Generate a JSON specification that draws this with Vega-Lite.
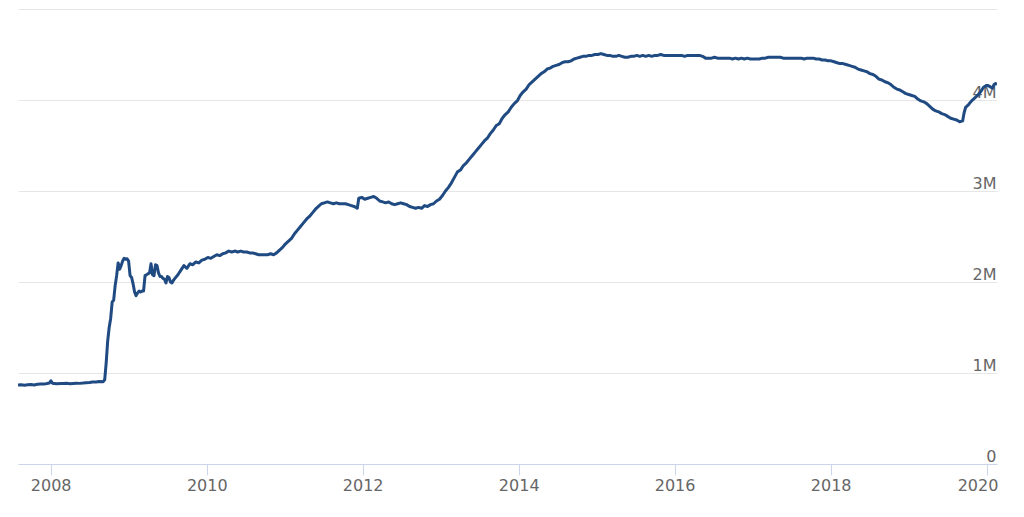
{
  "$schema": "https://vega.github.io/schema/vega-lite/v6.json",
  "width": 979,
  "height": 455,
  "autosize": {"type": "none"},
  "padding": {"left": 18, "top": 9, "right": 27, "bottom": 53},
  "background": "white",
  "config": {"view": {"stroke": null}},
  "data": {"values": [
    {"date":"2007-08-01","v":869},{"date":"2007-08-15","v":872},{"date":"2007-09-01","v":866},{"date":"2007-09-15","v":871},{"date":"2007-10-01","v":874},{"date":"2007-10-15","v":869},{"date":"2007-11-01","v":876},{"date":"2007-11-15","v":880},{"date":"2007-12-01","v":878},{"date":"2007-12-15","v":884},{"date":"2007-12-26","v":890},
    {"date":"2008-01-02","v":915},{"date":"2008-01-09","v":889},{"date":"2008-01-15","v":884},{"date":"2008-02-01","v":881},{"date":"2008-02-15","v":884},{"date":"2008-03-01","v":885},{"date":"2008-03-15","v":887},{"date":"2008-04-01","v":883},{"date":"2008-04-15","v":885},{"date":"2008-05-01","v":888},{"date":"2008-05-15","v":886},{"date":"2008-06-01","v":889},{"date":"2008-06-15","v":893},{"date":"2008-07-01","v":895},{"date":"2008-07-15","v":900},{"date":"2008-08-01","v":901},{"date":"2008-08-15","v":906},{"date":"2008-09-03","v":905},{"date":"2008-09-10","v":925},{"date":"2008-09-17","v":1110},{"date":"2008-09-24","v":1350},{"date":"2008-10-01","v":1500},{"date":"2008-10-08","v":1600},{"date":"2008-10-15","v":1780},{"date":"2008-10-22","v":1800},{"date":"2008-10-29","v":1960},{"date":"2008-11-05","v":2070},{"date":"2008-11-12","v":2210},{"date":"2008-11-19","v":2140},{"date":"2008-11-26","v":2180},{"date":"2008-12-03","v":2230},{"date":"2008-12-10","v":2260},{"date":"2008-12-17","v":2250},{"date":"2008-12-24","v":2255},{"date":"2008-12-31","v":2230},
    {"date":"2009-01-07","v":2070},{"date":"2009-01-14","v":2050},{"date":"2009-01-21","v":1980},{"date":"2009-01-28","v":1890},{"date":"2009-02-04","v":1850},{"date":"2009-02-11","v":1880},{"date":"2009-02-18","v":1900},{"date":"2009-02-25","v":1890},{"date":"2009-03-04","v":1900},{"date":"2009-03-11","v":1900},{"date":"2009-03-18","v":2070},{"date":"2009-03-25","v":2080},{"date":"2009-04-01","v":2090},{"date":"2009-04-08","v":2100},{"date":"2009-04-15","v":2200},{"date":"2009-04-22","v":2080},{"date":"2009-04-29","v":2070},{"date":"2009-05-06","v":2190},{"date":"2009-05-13","v":2180},{"date":"2009-05-20","v":2100},{"date":"2009-05-27","v":2060},{"date":"2009-06-03","v":2060},{"date":"2009-06-10","v":2040},{"date":"2009-06-17","v":2030},{"date":"2009-06-24","v":1990},{"date":"2009-07-01","v":2060},{"date":"2009-07-08","v":2050},{"date":"2009-07-15","v":2000},{"date":"2009-07-22","v":1990},{"date":"2009-07-29","v":2020},{"date":"2009-08-05","v":2040},{"date":"2009-08-19","v":2080},{"date":"2009-09-02","v":2130},{"date":"2009-09-16","v":2180},{"date":"2009-09-30","v":2150},{"date":"2009-10-14","v":2200},{"date":"2009-10-28","v":2190},{"date":"2009-11-11","v":2220},{"date":"2009-11-25","v":2210},{"date":"2009-12-09","v":2240},{"date":"2009-12-23","v":2250},
    {"date":"2010-01-06","v":2270},{"date":"2010-01-20","v":2260},{"date":"2010-02-03","v":2280},{"date":"2010-02-17","v":2300},{"date":"2010-03-03","v":2290},{"date":"2010-03-17","v":2310},{"date":"2010-03-31","v":2320},{"date":"2010-04-14","v":2340},{"date":"2010-04-28","v":2330},{"date":"2010-05-12","v":2340},{"date":"2010-05-26","v":2330},{"date":"2010-06-09","v":2340},{"date":"2010-06-23","v":2330},{"date":"2010-07-07","v":2330},{"date":"2010-07-21","v":2320},{"date":"2010-08-04","v":2320},{"date":"2010-08-18","v":2310},{"date":"2010-09-01","v":2300},{"date":"2010-09-15","v":2300},{"date":"2010-09-29","v":2300},{"date":"2010-10-13","v":2300},{"date":"2010-10-27","v":2310},{"date":"2010-11-10","v":2300},{"date":"2010-11-24","v":2320},{"date":"2010-12-08","v":2350},{"date":"2010-12-22","v":2380},
    {"date":"2011-01-05","v":2420},{"date":"2011-01-19","v":2450},{"date":"2011-02-02","v":2480},{"date":"2011-02-16","v":2530},{"date":"2011-03-02","v":2570},{"date":"2011-03-16","v":2610},{"date":"2011-03-30","v":2650},{"date":"2011-04-13","v":2690},{"date":"2011-04-27","v":2720},{"date":"2011-05-11","v":2760},{"date":"2011-05-25","v":2800},{"date":"2011-06-08","v":2830},{"date":"2011-06-22","v":2860},{"date":"2011-07-06","v":2870},{"date":"2011-07-20","v":2880},{"date":"2011-08-03","v":2870},{"date":"2011-08-17","v":2860},{"date":"2011-08-31","v":2870},{"date":"2011-09-14","v":2860},{"date":"2011-09-28","v":2860},{"date":"2011-10-12","v":2860},{"date":"2011-10-26","v":2850},{"date":"2011-11-09","v":2840},{"date":"2011-11-23","v":2830},{"date":"2011-12-07","v":2810},{"date":"2011-12-14","v":2920},{"date":"2011-12-28","v":2930},
    {"date":"2012-01-11","v":2910},{"date":"2012-01-25","v":2920},{"date":"2012-02-08","v":2930},{"date":"2012-02-22","v":2940},{"date":"2012-03-07","v":2920},{"date":"2012-03-21","v":2890},{"date":"2012-04-04","v":2880},{"date":"2012-04-18","v":2870},{"date":"2012-05-02","v":2880},{"date":"2012-05-16","v":2860},{"date":"2012-05-30","v":2850},{"date":"2012-06-13","v":2860},{"date":"2012-06-27","v":2870},{"date":"2012-07-11","v":2860},{"date":"2012-07-25","v":2850},{"date":"2012-08-08","v":2830},{"date":"2012-08-22","v":2820},{"date":"2012-09-05","v":2810},{"date":"2012-09-19","v":2820},{"date":"2012-10-03","v":2810},{"date":"2012-10-17","v":2840},{"date":"2012-10-31","v":2830},{"date":"2012-11-14","v":2850},{"date":"2012-11-28","v":2860},{"date":"2012-12-12","v":2890},{"date":"2012-12-26","v":2910},
    {"date":"2013-01-09","v":2950},{"date":"2013-01-23","v":3000},{"date":"2013-02-06","v":3040},{"date":"2013-02-20","v":3090},{"date":"2013-03-06","v":3150},{"date":"2013-03-20","v":3210},{"date":"2013-04-03","v":3230},{"date":"2013-04-17","v":3280},{"date":"2013-05-01","v":3310},{"date":"2013-05-15","v":3350},{"date":"2013-05-29","v":3390},{"date":"2013-06-12","v":3430},{"date":"2013-06-26","v":3470},{"date":"2013-07-10","v":3510},{"date":"2013-07-24","v":3550},{"date":"2013-08-07","v":3580},{"date":"2013-08-21","v":3630},{"date":"2013-09-04","v":3670},{"date":"2013-09-18","v":3720},{"date":"2013-10-02","v":3740},{"date":"2013-10-16","v":3800},{"date":"2013-10-30","v":3840},{"date":"2013-11-13","v":3870},{"date":"2013-11-27","v":3920},{"date":"2013-12-11","v":3960},{"date":"2013-12-25","v":3990},
    {"date":"2014-01-08","v":4050},{"date":"2014-01-22","v":4090},{"date":"2014-02-05","v":4120},{"date":"2014-02-19","v":4170},{"date":"2014-03-05","v":4200},{"date":"2014-03-19","v":4230},{"date":"2014-04-02","v":4260},{"date":"2014-04-16","v":4290},{"date":"2014-04-30","v":4310},{"date":"2014-05-14","v":4340},{"date":"2014-05-28","v":4350},{"date":"2014-06-11","v":4370},{"date":"2014-06-25","v":4380},{"date":"2014-07-09","v":4390},{"date":"2014-07-23","v":4410},{"date":"2014-08-06","v":4420},{"date":"2014-08-20","v":4420},{"date":"2014-09-03","v":4430},{"date":"2014-09-17","v":4450},{"date":"2014-10-01","v":4460},{"date":"2014-10-15","v":4470},{"date":"2014-10-29","v":4480},{"date":"2014-11-12","v":4480},{"date":"2014-11-26","v":4490},{"date":"2014-12-10","v":4490},{"date":"2014-12-24","v":4500},
    {"date":"2015-01-07","v":4500},{"date":"2015-01-21","v":4510},{"date":"2015-02-04","v":4500},{"date":"2015-02-18","v":4490},{"date":"2015-03-04","v":4490},{"date":"2015-03-18","v":4480},{"date":"2015-04-01","v":4480},{"date":"2015-04-15","v":4490},{"date":"2015-04-29","v":4480},{"date":"2015-05-13","v":4470},{"date":"2015-05-27","v":4470},{"date":"2015-06-10","v":4480},{"date":"2015-06-24","v":4480},{"date":"2015-07-08","v":4490},{"date":"2015-07-22","v":4480},{"date":"2015-08-05","v":4490},{"date":"2015-08-19","v":4480},{"date":"2015-09-02","v":4490},{"date":"2015-09-16","v":4480},{"date":"2015-09-30","v":4490},{"date":"2015-10-14","v":4490},{"date":"2015-10-28","v":4500},{"date":"2015-11-11","v":4490},{"date":"2015-11-25","v":4490},{"date":"2015-12-09","v":4490},{"date":"2015-12-23","v":4490},
    {"date":"2016-01-06","v":4490},{"date":"2016-01-20","v":4490},{"date":"2016-02-03","v":4490},{"date":"2016-02-17","v":4480},{"date":"2016-03-02","v":4490},{"date":"2016-03-16","v":4490},{"date":"2016-03-30","v":4490},{"date":"2016-04-13","v":4490},{"date":"2016-04-27","v":4490},{"date":"2016-05-11","v":4480},{"date":"2016-05-25","v":4460},{"date":"2016-06-08","v":4460},{"date":"2016-06-22","v":4460},{"date":"2016-07-06","v":4470},{"date":"2016-07-20","v":4460},{"date":"2016-08-03","v":4460},{"date":"2016-08-17","v":4460},{"date":"2016-08-31","v":4460},{"date":"2016-09-14","v":4460},{"date":"2016-09-28","v":4450},{"date":"2016-10-12","v":4460},{"date":"2016-10-26","v":4450},{"date":"2016-11-09","v":4460},{"date":"2016-11-23","v":4450},{"date":"2016-12-07","v":4460},{"date":"2016-12-21","v":4450},
    {"date":"2017-01-04","v":4450},{"date":"2017-01-18","v":4450},{"date":"2017-02-01","v":4450},{"date":"2017-02-15","v":4460},{"date":"2017-03-01","v":4460},{"date":"2017-03-15","v":4470},{"date":"2017-03-29","v":4470},{"date":"2017-04-12","v":4470},{"date":"2017-04-26","v":4470},{"date":"2017-05-10","v":4470},{"date":"2017-05-24","v":4460},{"date":"2017-06-07","v":4460},{"date":"2017-06-21","v":4460},{"date":"2017-07-05","v":4460},{"date":"2017-07-19","v":4460},{"date":"2017-08-02","v":4460},{"date":"2017-08-16","v":4460},{"date":"2017-08-30","v":4450},{"date":"2017-09-13","v":4460},{"date":"2017-09-27","v":4460},{"date":"2017-10-11","v":4460},{"date":"2017-10-25","v":4450},{"date":"2017-11-08","v":4450},{"date":"2017-11-22","v":4440},{"date":"2017-12-06","v":4440},{"date":"2017-12-20","v":4430},
    {"date":"2018-01-03","v":4430},{"date":"2018-01-17","v":4420},{"date":"2018-01-31","v":4410},{"date":"2018-02-14","v":4400},{"date":"2018-02-28","v":4400},{"date":"2018-03-14","v":4390},{"date":"2018-03-28","v":4380},{"date":"2018-04-11","v":4370},{"date":"2018-04-25","v":4360},{"date":"2018-05-09","v":4340},{"date":"2018-05-23","v":4330},{"date":"2018-06-06","v":4320},{"date":"2018-06-20","v":4310},{"date":"2018-07-04","v":4290},{"date":"2018-07-18","v":4280},{"date":"2018-08-01","v":4260},{"date":"2018-08-15","v":4230},{"date":"2018-08-29","v":4220},{"date":"2018-09-12","v":4200},{"date":"2018-09-26","v":4190},{"date":"2018-10-10","v":4170},{"date":"2018-10-24","v":4140},{"date":"2018-11-07","v":4120},{"date":"2018-11-21","v":4110},{"date":"2018-12-05","v":4090},{"date":"2018-12-19","v":4070},
    {"date":"2019-01-02","v":4060},{"date":"2019-01-16","v":4050},{"date":"2019-01-30","v":4040},{"date":"2019-02-13","v":4010},{"date":"2019-02-27","v":3990},{"date":"2019-03-13","v":3980},{"date":"2019-03-27","v":3960},{"date":"2019-04-10","v":3930},{"date":"2019-04-24","v":3900},{"date":"2019-05-08","v":3880},{"date":"2019-05-22","v":3870},{"date":"2019-06-05","v":3850},{"date":"2019-06-19","v":3840},{"date":"2019-07-03","v":3820},{"date":"2019-07-17","v":3800},{"date":"2019-07-31","v":3790},{"date":"2019-08-14","v":3780},{"date":"2019-08-28","v":3760},{"date":"2019-09-11","v":3770},{"date":"2019-09-18","v":3860},{"date":"2019-09-25","v":3920},{"date":"2019-10-09","v":3950},{"date":"2019-10-23","v":3990},{"date":"2019-11-06","v":4020},{"date":"2019-11-20","v":4050},{"date":"2019-12-04","v":4090},{"date":"2019-12-18","v":4140},{"date":"2019-12-31","v":4160},
    {"date":"2020-01-08","v":4160},{"date":"2020-01-15","v":4150},{"date":"2020-01-29","v":4130},{"date":"2020-02-05","v":4170},{"date":"2020-02-12","v":4180},{"date":"2020-02-19","v":4170}
  ]},
  "mark": {"type": "line", "color": "#1f4a82", "strokeWidth": 3, "strokeJoin": "round", "clip": true},
  "encoding": {
    "x": {
      "field": "date", "type": "temporal", "title": null,
      "scale": {"domain": ["2007-08-01", "2020-02-19"], "nice": false},
      "axis": {
        "values": ["2008-01-01", "2010-01-01", "2012-01-01", "2014-01-01", "2016-01-01", "2018-01-01", "2020-01-01"],
        "format": "%Y", "grid": false,
        "domainColor": "#ccd6eb", "tickColor": "#ccd6eb", "tickSize": 11,
        "labelFont": "DejaVu Sans", "labelFontSize": 16, "labelColor": "#666666",
        "labelPadding": 2,
        "labelOffset": {"condition": {"test": "year(datum.value) == 2020", "value": -9}, "value": 0}
      }
    },
    "y": {
      "field": "v", "type": "quantitative", "title": null,
      "scale": {"domain": [0, 5000], "nice": false},
      "axis": {
        "orient": "right", "values": [0, 1000, 2000, 3000, 4000, 5000],
        "grid": true, "gridColor": "#e6e6e6", "domain": false, "ticks": false,
        "labelAlign": "right", "labelBaseline": "alphabetic", "labelPadding": -1, "labelOffset": -3,
        "labelFont": "DejaVu Sans", "labelFontSize": 16, "labelColor": "#666666",
        "labelExpr": "datum.value == 0 ? '0' : datum.value == 5000 ? '' : (datum.value / 1000) + 'M'"
      }
    }
  }
}
